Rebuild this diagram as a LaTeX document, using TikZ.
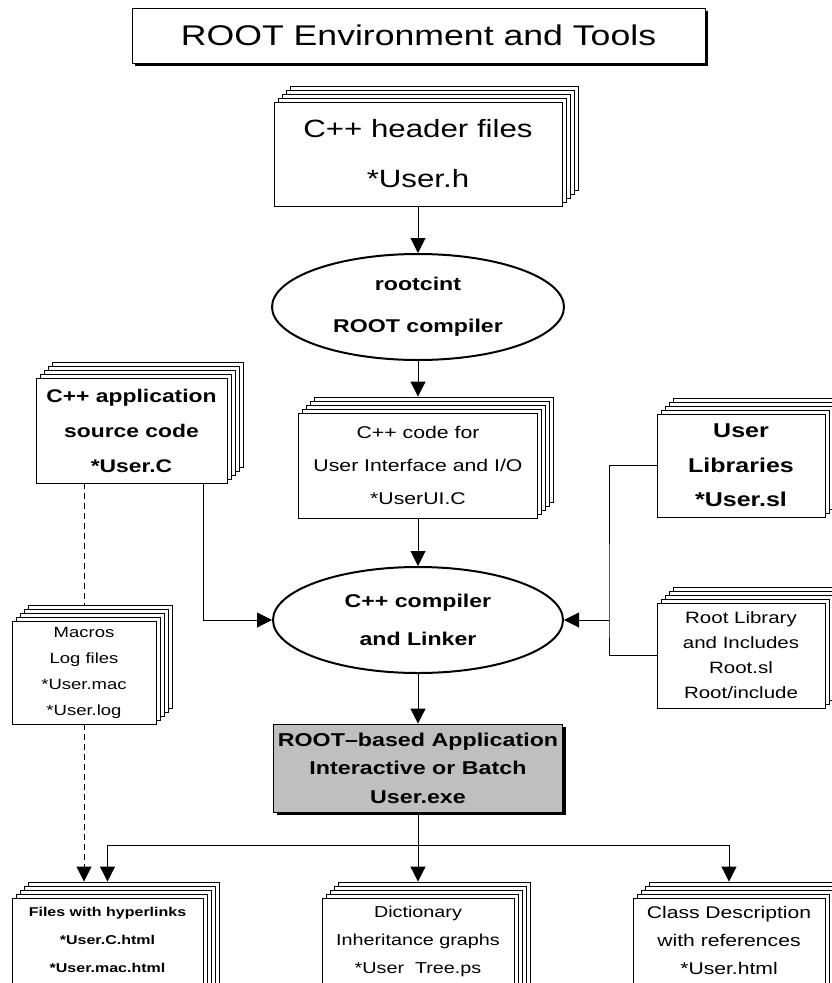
\documentclass[tikz,border=0pt]{standalone}
\usepackage{fontspec}
\setmainfont{Liberation Sans}[FakeStretch=1.25]
\usetikzlibrary{arrows.meta,shapes.geometric,shadows}
\newcommand{\fs}[2]{\fontsize{#1}{#2}\selectfont}
\newcommand{\pagestack}[7]{%
  \foreach \k in {4,3,2,1}{\draw[page] ({#2-#4/2+4*\k},{#3-#5/2-4*\k}) rectangle ++(#4,#5);}
  \node[front,minimum width=#4pt,minimum height=#5pt,#6] (#1) at (#2,#3) {#7};}
\begin{document}
\begin{tikzpicture}[x=1pt,y=-1pt,
  page/.style={draw=black, fill=white, line width=0.9pt},
  front/.style={page, rectangle, inner sep=0pt, align=center},
  oval/.style={ellipse, draw=black, fill=white, line width=2pt, inner sep=0pt, align=center},
  plain/.style={line width=1pt},
  conn/.style={line width=1pt, -{Triangle[width=15pt,length=15pt]}},
  dashline/.style={line width=1pt, dash pattern=on 6pt off 4pt},
  dashconn/.style={conn, dash pattern=on 6pt off 4pt},
  hardshadow/.style={drop shadow={shadow xshift=3pt, shadow yshift=-3pt, fill=black, opacity=1}}]
\useasboundingbox (0,0) rectangle (832,983);
\clip (0,0) rectangle (832,983);
\fill[white] (0,0) rectangle (832,983);

% title
\node[front, hardshadow, minimum width=573pt, minimum height=55pt, font=\fs{28.5}{34}] (title) at (418.5,35.5) {ROOT Environment and Tools};

% boxes and ovals
\pagestack{header}{418}{154}{288}{104}{font=\fs{25}{50}}{C++ header files\\{*}User.h}
\node[oval, minimum width=292pt, minimum height=106pt, font=\bfseries\fs{18.5}{42}] (rootcint) at (418,307) {rootcint\\ROOT compiler};
\pagestack{code}{418}{465.5}{239}{105}{font=\fs{17}{33}}{C++ code for\\User Interface and I/O\\{*}UserUI.C}
\node[oval, minimum width=290pt, minimum height=106pt, font=\bfseries\fs{18.5}{38}] (compiler) at (418,620) {C++ compiler\\and Linker};
\pagestack{capp}{131.5}{430.5}{191}{105}{font=\bfseries\fs{18.3}{35}}{C++ application\\source code\\{*}User.C}
\pagestack{macros}{84}{672.5}{144}{103}{font=\fs{14.8}{26}}{Macros\\Log files\\{*}User.mac\\{*}User.log}
\pagestack{userlib}{741}{465.5}{168}{103}{font=\bfseries\fs{20}{34.5}}{User\\Libraries\\{*}User.sl}
\pagestack{rootlib}{741}{655.5}{168}{105}{font=\fs{16.4}{25}}{Root Library\\and Includes\\Root.sl\\Root/include}
\node[front, fill=black!25, hardshadow, minimum width=289pt, minimum height=88pt, font=\bfseries\fs{18.6}{28.5}] (app) at (418,768) {ROOT--based Application\\Interactive or Batch\\User.exe};
\pagestack{files}{107.5}{950}{191}{104}{font=\bfseries\fs{12.8}{28}}{Files with hyperlinks\\{*}User.C.html\\{*}User.mac.html\\[-8pt]\mbox{}}
\pagestack{dict}{418}{950}{192}{104}{font=\fs{15.8}{28}}{Dictionary\\Inheritance graphs\\{*}User\ \ Tree.ps\\[-8pt]\mbox{}}
\pagestack{class}{729}{950}{192}{104}{font=\fs{16.9}{28}}{Class Description\\with references\\{*}User.html\\[-8pt]\mbox{}}

% connectors
\coordinate (codetop) at ([yshift=16pt]code.north);
\coordinate (dicttop) at ([yshift=16pt]dict.north);
\coordinate (filestop) at ([yshift=16pt]files.north);
\coordinate (classtop) at ([yshift=16pt]class.north);
\coordinate (macrostop) at ([yshift=16pt]macros.north);
\coordinate (rbus) at (609,620);
\coordinate (split) at (418,845);
\draw[conn] (header.south) -- (rootcint.north);
\draw[conn] (rootcint.south) -- (codetop);
\draw[conn] (code.south) -- (compiler.north);
\draw[conn] (compiler.south) -- (app.north);
\draw[conn] ([xshift=-24pt]capp.south east) |- (compiler.west);
\draw[plain] (userlib.west) -| (rbus) |- (rootlib.west);
\draw[conn] (rbus) -- (compiler.east);
\draw[conn] (app.south) -- (dicttop);
\draw[conn] (split) -| (filestop);
\draw[conn] (split) -| (classtop);
\draw[dashline] (capp.south -| macros.north) -- (macrostop);
\draw[dashconn] (macros.south) -- (macros.south |- filestop);
\end{tikzpicture}
\end{document}
